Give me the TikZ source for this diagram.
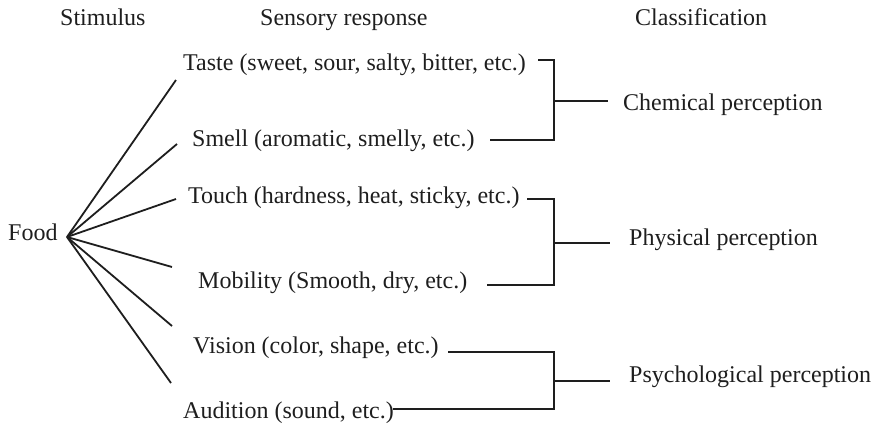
\documentclass[tikz,border=0pt]{standalone}
\usepackage{fontspec}
\setmainfont{Liberation Serif}
\definecolor{ink}{HTML}{1E1E1E}
\begin{document}
\begin{tikzpicture}[x=1pt,y=-1pt,
  txt/.style={inner sep=0pt, anchor=base west, text=ink, font=\fontsize{24}{28}\selectfont},
  ln/.style={line width=1.8pt, draw=ink}]
\useasboundingbox (0,0) rectangle (879,424);
% headers
\node[txt] (stim) at (60,25) {Stimulus};
\node[txt] (sens) at (260,25) {Sensory response};
\node[txt] (clas) at (635,25) {Classification};
% stimulus
\node[txt] (food) at (8,240) {Food};
\coordinate (fv) at (67,237);
% responses
\node[txt] (taste) at (183,70) {Taste (sweet, sour, salty, bitter, etc.)};
\node[txt] (smell) at (192,146) {Smell (aromatic, smelly, etc.)};
\node[txt] (touch) at (188,203) {Touch (hardness, heat, sticky, etc.)};
\node[txt] (mob) at (198,288) {Mobility (Smooth, dry, etc.)};
\node[txt] (vis) at (193,353) {Vision (color, shape, etc.)};
\node[txt] (aud) at (183,418) {Audition (sound, etc.)};
% classes
\node[txt] (chem) at (623,110) {Chemical perception};
\node[txt] (phys) at (629,245) {Physical perception};
\node[txt] (psy) at (629,382) {Psychological perception};
% fan line ends
\coordinate (e1) at (176,80);
\coordinate (e2) at (177,144);
\coordinate (e3) at (176,199);
\coordinate (e4) at (172,267);
\coordinate (e5) at (172,326);
\coordinate (e6) at (171,383);
\foreach \e in {e1,e2,e3,e4,e5,e6} \draw[ln] (fv) -- (\e);
% bracket 1
\coordinate (t1) at (538,60);
\coordinate (s1) at (490,140);
\coordinate (b1t) at (554,60);
\coordinate (b1b) at (554,140);
\coordinate (m1) at (554,101);
\coordinate (c1) at (608,101);
\draw[ln] (t1) -- (b1t) -- (b1b) -- (s1);
\draw[ln] (m1) -- (c1);
% bracket 2
\coordinate (t2) at (527,199);
\coordinate (s2) at (487,285);
\coordinate (b2t) at (554,199);
\coordinate (b2b) at (554,285);
\coordinate (m2) at (554,243);
\coordinate (c2) at (610,243);
\draw[ln] (t2) -- (b2t) -- (b2b) -- (s2);
\draw[ln] (m2) -- (c2);
% bracket 3
\coordinate (t3) at (448,352);
\coordinate (s3) at (393,409);
\coordinate (b3t) at (554,352);
\coordinate (b3b) at (554,409);
\coordinate (m3) at (554,381);
\coordinate (c3) at (610,381);
\draw[ln] (t3) -- (b3t) -- (b3b) -- (s3);
\draw[ln] (m3) -- (c3);
\end{tikzpicture}
\end{document}
